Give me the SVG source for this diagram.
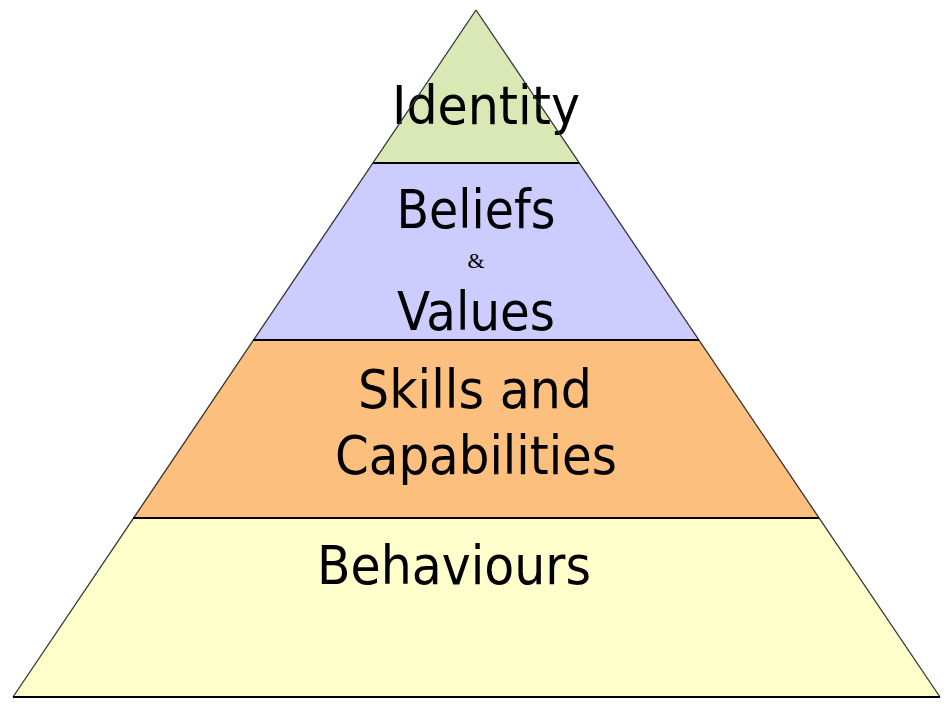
<svg xmlns="http://www.w3.org/2000/svg" width="948" height="710" viewBox="0 0 948 710">
<style>
.side{stroke:#333;stroke-width:1.3}
.sep{stroke:#000;stroke-width:2}
.t{font-family:"DejaVu Sans",sans-serif;font-size:54px;fill:#000;text-anchor:middle}
.amp{font-family:"Liberation Serif",serif;font-size:22px;fill:#000;text-anchor:middle}
</style>
<rect width="948" height="710" fill="#fff"/>
<g id="identity">
<polygon points="476,10 373,163 579,163" fill="#D9E8B5"/>
<text class="t" x="486" y="124" textLength="188" lengthAdjust="spacingAndGlyphs">Identity</text>
</g>
<g id="beliefs">
<polygon points="373,163 579,163 699,340 253,340" fill="#CCCCFF"/>
<text class="t" x="476" y="228" textLength="159" lengthAdjust="spacingAndGlyphs">Beliefs</text>
<text class="amp" x="476" y="268">&amp;</text>
<text class="t" x="476" y="330" textLength="158" lengthAdjust="spacingAndGlyphs">Values</text>
</g>
<g id="skills">
<polygon points="253,340 699,340 819,518 133,518" fill="#FDBF7D"/>
<text class="t" x="475" y="408" textLength="234" lengthAdjust="spacingAndGlyphs">Skills and</text>
<text class="t" x="476" y="474" textLength="282" lengthAdjust="spacingAndGlyphs">Capabilities</text>
</g>
<g id="behaviours">
<polygon points="133,518 819,518 940,697 13,697" fill="#FFFFCC"/>
<text class="t" x="454" y="584" textLength="274" lengthAdjust="spacingAndGlyphs">Behaviours</text>
</g>
<g id="connectors">
<line class="side" x1="476" y1="10" x2="13" y2="697"/>
<line class="side" x1="476" y1="10" x2="940" y2="697"/>
<line class="sep" x1="373" y1="163" x2="579" y2="163"/>
<line class="sep" x1="253" y1="340" x2="699" y2="340"/>
<line class="sep" x1="133" y1="518" x2="819" y2="518"/>
<line class="sep" x1="13" y1="697" x2="940" y2="697"/>
</g>
</svg>
